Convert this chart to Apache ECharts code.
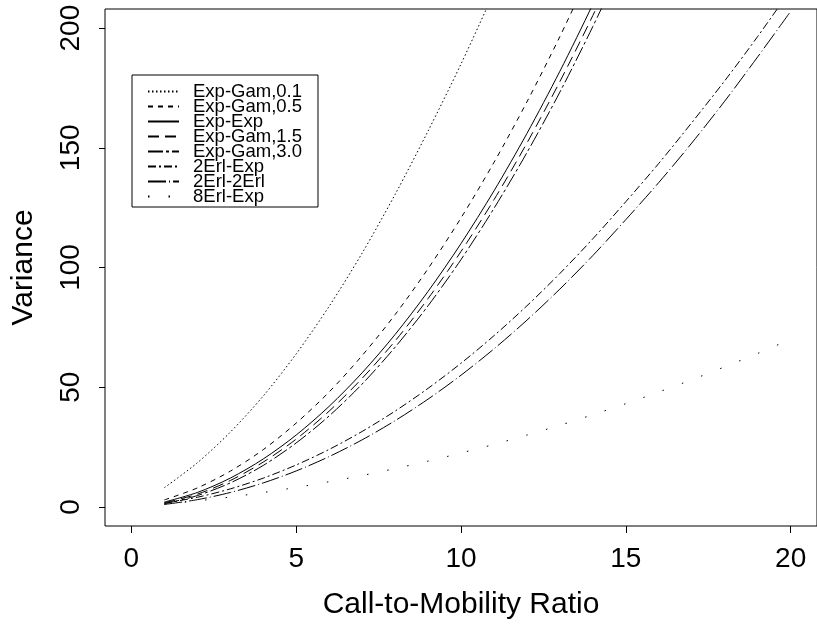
<!DOCTYPE html>
<html>
<head>
<meta charset="utf-8">
<script src="https://cdn.jsdelivr.net/npm/echarts@6/dist/echarts.min.js"></script>
<style>
html, body { margin: 0; padding: 0; background: #fff; }
#chart { width: 817px; height: 627px; }
</style>
</head>
<body>
<div id="chart"></div>
<script>
// call-to-mobility ratio (x) and variance
const ratio = [1, 2, 3, 4, 5, 6, 7, 8, 9, 10, 11, 12, 13, 14, 15, 16, 17, 18, 19, 20]
const xTicks = [0, 5, 10, 15, 20]
const yTicks = [0, 50, 100, 150, 200]

const expGam01 = [8, 18.4, 31.2, 46.3, 63.9, 83.8, 106, 130.5, 157, 185, 215]
const expGam05 = [2.9, 7.9, 14.9, 23.9, 35, 48, 63.2, 80.3, 99.5, 120.7, 143.9, 169.2, 196.5, 225.9]
const expExp = [2, 6, 12, 20, 30, 42, 56, 72, 90, 110, 132, 156, 182, 210, 240]
const expGam15 = [1.7, 5.3, 11, 18.7, 28.3, 40, 53.7, 69.3, 87, 106.7, 128.3, 152, 177.7, 205.3, 235]
const expGam30 = [1.3, 4.7, 10, 17.3, 26.7, 38, 51.3, 66.7, 84, 103.3, 124.7, 148, 173.3, 200.7, 230]
const erl2Exp = [1.5, 4, 7.5, 12, 17.5, 24, 31.5, 40, 49.5, 60, 71.5, 84, 97.5, 112, 127.5, 143.5, 160.5, 178, 196.5, 216]
const erl2Erl2 = [1, 3, 6, 10, 15, 21, 28, 36, 45, 55, 66, 78, 91, 105, 120, 135.5, 152, 169.5, 188, 207]
const erl8Exp = [1.1, 2.5, 4.1, 6, 8.1, 10.5, 13.1, 16, 19.1, 22.5, 26.1, 30, 34.1, 38.5, 43.1, 48, 53.1, 58.5, 64.1, 70]

const seriesNames = ['Exp-Gam,0.1', 'Exp-Gam,0.5', 'Exp-Exp', 'Exp-Gam,1.5', 'Exp-Gam,3.0', '2Erl-Exp', '2Erl-2Erl', '8Erl-Exp']
const seriesValues = [expGam01, expGam05, expExp, expGam15, expGam30, erl2Exp, erl2Erl2, erl8Exp]
// R style line types
const dashes = [[1.5, 2.5], [5, 5], 'solid', [11, 6], [15, 3, 3, 3], [8, 3, 2, 3], [18, 3, 1, 3], [1.5, 19]]

const font = 'Liberation Sans, Arial, Helvetica, sans-serif'

let chart = echarts.init(document.getElementById('chart'))

let series = seriesNames.map((name, k) => ({
  name: name,
  type: 'line',
  data: seriesValues[k].map((v, i) => [ratio[i], v]),
  smooth: 0.3,
  symbol: 'none',
  clip: true,
  color: '#000',
  lineStyle: { color: '#000', width: 1, type: dashes[k] }
}))

let option = {
  animation: false,
  backgroundColor: '#fff',
  grid: {
    left: 105, top: 9, width: 718, height: 517,
    show: true, borderColor: '#000', borderWidth: 1, backgroundColor: 'transparent'
  },
  legend: {
    orient: 'vertical',
    left: 132, top: 75,
    padding: [7, 16, 1, 15],
    itemWidth: 31, itemHeight: 15, itemGap: -4,
    borderColor: '#000', borderWidth: 1, borderRadius: 0,
    backgroundColor: '#fff',
    itemStyle: { opacity: 0 },
    textStyle: { fontFamily: font, fontSize: 18.5, lineHeight: 15, height: 15, color: '#000', padding: [0, 0, 0, 9] },
    data: seriesNames
  },
  xAxis: {
    type: 'value',
    min: -0.8, max: 20.8,
    name: 'Call-to-Mobility Ratio',
    nameLocation: 'middle',
    nameGap: 64,
    nameTextStyle: { fontFamily: font, fontSize: 30, color: '#000' },
    splitLine: { show: false },
    axisLine: { show: false, onZero: false },
    axisTick: { show: true, inside: false, length: 7, customValues: xTicks, lineStyle: { color: '#000' } },
    axisLabel: { customValues: xTicks, margin: 19, fontFamily: font, fontSize: 28, color: '#000' }
  },
  yAxis: {
    type: 'value',
    min: -8, max: 208,
    name: 'Variance',
    nameLocation: 'middle',
    nameGap: 66,
    nameTextStyle: { fontFamily: font, fontSize: 30, color: '#000' },
    splitLine: { show: false },
    axisLine: { show: false, onZero: false },
    axisTick: { show: true, inside: false, length: 6, customValues: yTicks, lineStyle: { color: '#000' } },
    axisLabel: { customValues: yTicks, rotate: 90, margin: 20, fontFamily: font, fontSize: 28, color: '#000' }
  },
  series: series
}

chart.setOption(option)
</script>
</body>
</html>
